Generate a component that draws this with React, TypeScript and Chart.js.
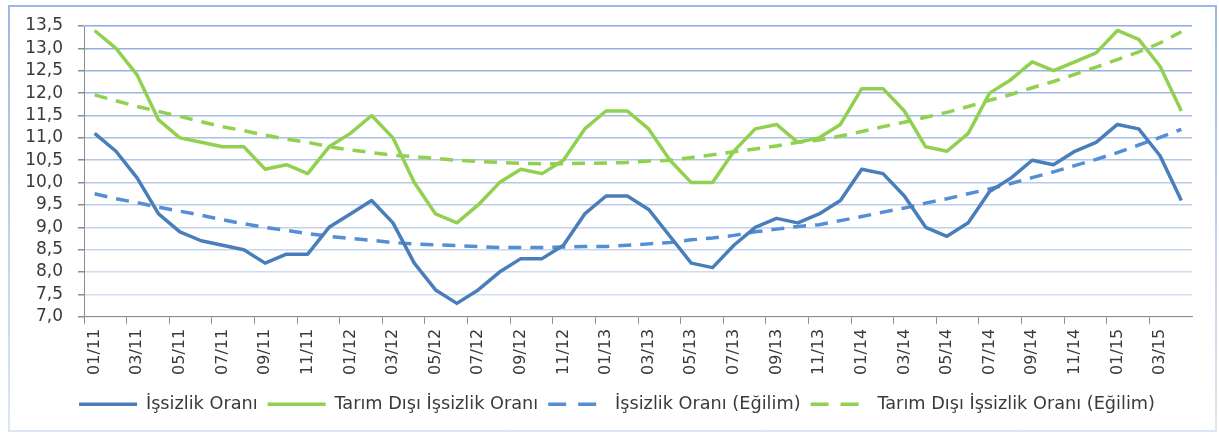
import React, { useEffect, useRef } from "react";
import { Chart, registerables } from "chart.js";

Chart.register(...registerables);

const months: string[] = [
  "01/11", "02/11", "03/11", "04/11", "05/11", "06/11", "07/11", "08/11", "09/11", "10/11", "11/11", "12/11",
  "01/12", "02/12", "03/12", "04/12", "05/12", "06/12", "07/12", "08/12", "09/12", "10/12", "11/12", "12/12",
  "01/13", "02/13", "03/13", "04/13", "05/13", "06/13", "07/13", "08/13", "09/13", "10/13", "11/13", "12/13",
  "01/14", "02/14", "03/14", "04/14", "05/14", "06/14", "07/14", "08/14", "09/14", "10/14", "11/14", "12/14",
  "01/15", "02/15", "03/15", "04/15",
];

const issizlik: number[] = [
  11.1, 10.7, 10.1, 9.3, 8.9, 8.7, 8.6, 8.5, 8.2, 8.4, 8.4, 9.0,
  9.3, 9.6, 9.1, 8.2, 7.6, 7.3, 7.6, 8.0, 8.3, 8.3, 8.6, 9.3,
  9.7, 9.7, 9.4, 8.8, 8.2, 8.1, 8.6, 9.0, 9.2, 9.1, 9.3, 9.6,
  10.3, 10.2, 9.7, 9.0, 8.8, 9.1, 9.8, 10.1, 10.5, 10.4, 10.7, 10.9,
  11.3, 11.2, 10.6, 9.6,
];

const tarimDisi: number[] = [
  13.4, 13.0, 12.4, 11.4, 11.0, 10.9, 10.8, 10.8, 10.3, 10.4, 10.2, 10.8,
  11.1, 11.5, 11.0, 10.0, 9.3, 9.1, 9.5, 10.0, 10.3, 10.2, 10.5, 11.2,
  11.6, 11.6, 11.2, 10.5, 10.0, 10.0, 10.7, 11.2, 11.3, 10.9, 11.0, 11.3,
  12.1, 12.1, 11.6, 10.8, 10.7, 11.1, 12.0, 12.3, 12.7, 12.5, 12.7, 12.9,
  13.4, 13.2, 12.6, 11.6,
];

const issizlikEgilim: number[] = [
  9.75, 9.64, 9.55, 9.45, 9.36, 9.27, 9.17, 9.08, 9.0, 8.93, 8.86, 8.8,
  8.75, 8.71, 8.66, 8.63, 8.61, 8.59, 8.57, 8.55, 8.55, 8.55, 8.56, 8.57,
  8.57, 8.6, 8.63, 8.66, 8.72, 8.76, 8.82, 8.9, 8.96, 9.02, 9.06, 9.15,
  9.24, 9.34, 9.43, 9.54, 9.64, 9.75, 9.86, 9.98, 10.11, 10.24, 10.38, 10.52,
  10.67, 10.84, 11.01, 11.19,
];

const tarimDisiEgilim: number[] = [
  11.96, 11.83, 11.7, 11.59, 11.48, 11.36, 11.25, 11.16, 11.06, 10.97, 10.9, 10.8,
  10.73, 10.67, 10.61, 10.58, 10.54, 10.5, 10.47, 10.45, 10.43, 10.42, 10.42, 10.43,
  10.44, 10.45, 10.48, 10.5, 10.56, 10.62, 10.69, 10.75, 10.82, 10.9, 10.95, 11.04,
  11.14, 11.25, 11.35, 11.46, 11.57, 11.7, 11.84, 11.97, 12.12, 12.26, 12.42, 12.58,
  12.75, 12.92, 13.12, 13.37,
];

const seriesNames: string[] = [
  "İşsizlik Oranı",
  "Tarım Dışı İşsizlik Oranı",
  "İşsizlik Oranı (Eğilim)",
  "Tarım Dışı İşsizlik Oranı (Eğilim)",
];

const FONT = "'DejaVu Sans', sans-serif";
const TEXT = "#3a3a3a";

function gridColor(index: number, count: number): string {
  const t = count > 1 ? index / (count - 1) : 1;
  const bot = [218, 228, 243];
  const top = [140, 171, 222];
  const c = bot.map((b, i) => Math.round(b + (top[i] - b) * t));
  return `rgb(${c[0]},${c[1]},${c[2]})`;
}

const shiftLegend = {
  id: "shiftLegend",
  afterLayout(chart: any) {
    const l = chart.legend;
    if (l) {
      l.left += 11;
      l.right += 11;
    }
  },
};

export default function App() {
  const ref = useRef<HTMLCanvasElement | null>(null);

  useEffect(() => {
    if (!ref.current) return;
    const dashLine = [13, 9];
    const chart = new Chart(ref.current, {
      type: "line",
      data: {
        labels: months,
        datasets: [
          {
            label: seriesNames[0],
            data: issizlik,
            borderColor: "#4a7ebb",
            backgroundColor: "#4a7ebb",
            borderWidth: 3.5,
            pointRadius: 0,
            tension: 0,
            borderJoinStyle: "round",
          },
          {
            label: seriesNames[1],
            data: tarimDisi,
            borderColor: "#92d050",
            backgroundColor: "#92d050",
            borderWidth: 3.5,
            pointRadius: 0,
            tension: 0,
            borderJoinStyle: "round",
          },
          {
            label: seriesNames[2],
            data: issizlikEgilim,
            borderColor: "#558ed5",
            backgroundColor: "#558ed5",
            borderWidth: 3.5,
            borderDash: dashLine,
            pointRadius: 0,
            tension: 0,
          },
          {
            label: seriesNames[3],
            data: tarimDisiEgilim,
            borderColor: "#92d050",
            backgroundColor: "#92d050",
            borderWidth: 3.5,
            borderDash: dashLine,
            pointRadius: 0,
            tension: 0,
          },
        ],
      },
      plugins: [shiftLegend],
      options: {
        animation: false,
        responsive: false,
        maintainAspectRatio: false,
        layout: { padding: { left: 20, right: 27, top: 26, bottom: 10 } },
        plugins: {
          tooltip: { enabled: false },
          legend: {
            position: "bottom",
            labels: {
              usePointStyle: true,
              pointStyle: "line",
              pointStyleWidth: 58,
              padding: 10,
              color: TEXT,
              font: { family: FONT, size: 17.7 },
              generateLabels: (ch: any) => {
                const items = Chart.defaults.plugins.legend.labels.generateLabels(ch);
                return items.map((it: any, i: number) => ({
                  ...it,
                  pointStyle: "line",
                  lineWidth: 3.5,
                  lineDash: i >= 2 ? [18, 12] : [],
                  lineCap: "butt",
                }));
              },
            },
          },
        },
        scales: {
          x: {
            type: "category",
            offset: true,
            afterFit: (s: any) => {
              s.height = 68.5;
            },
            border: { display: true, color: "#8c8c8c", width: 1 },
            grid: {
              display: true,
              offset: true,
              drawOnChartArea: false,
              drawTicks: true,
              tickLength: 7,
              tickColor: (ctx: any) => (ctx.index % 2 === 0 ? "#8c8c8c" : "rgba(0,0,0,0)"),
            },
            ticks: {
              autoSkip: false,
              minRotation: 90,
              maxRotation: 90,
              padding: 5,
              color: TEXT,
              font: { family: FONT, size: 16 },
              callback: (_v: any, i: number) => (i % 2 === 0 ? months[i] : ""),
            },
          },
          y: {
            min: 7,
            max: 13.5,
            afterFit: (s: any) => {
              s.width = 64;
            },
            border: { display: true, color: "#8c8c8c", width: 1 },
            grid: {
              color: (ctx: any) => gridColor(ctx.index, 14),
              lineWidth: 1.5,
              tickLength: 6,
              tickColor: "#8c8c8c",
            },
            ticks: {
              stepSize: 0.5,
              autoSkip: false,
              padding: 15,
              color: TEXT,
              font: { family: FONT, size: 17 },
              callback: (v: any) => Number(v).toFixed(1).replace(".", ","),
            },
          },
        },
      },
    });
    return () => chart.destroy();
  }, []);

  return (
    <div style={{ position: "fixed", left: 0, top: 0, width: 1219, height: 433, background: "#fff" }}>
      <div
        style={{
          position: "absolute",
          left: 8,
          top: 5,
          width: 1209,
          height: 427,
          boxSizing: "border-box",
          border: "2px solid",
          borderImage: "linear-gradient(#9cb8e2, #dde7f4) 1",
        }}
      />
      <canvas ref={ref} width={1219} height={433} style={{ position: "absolute", left: 0, top: 0 }} />
    </div>
  );
}
